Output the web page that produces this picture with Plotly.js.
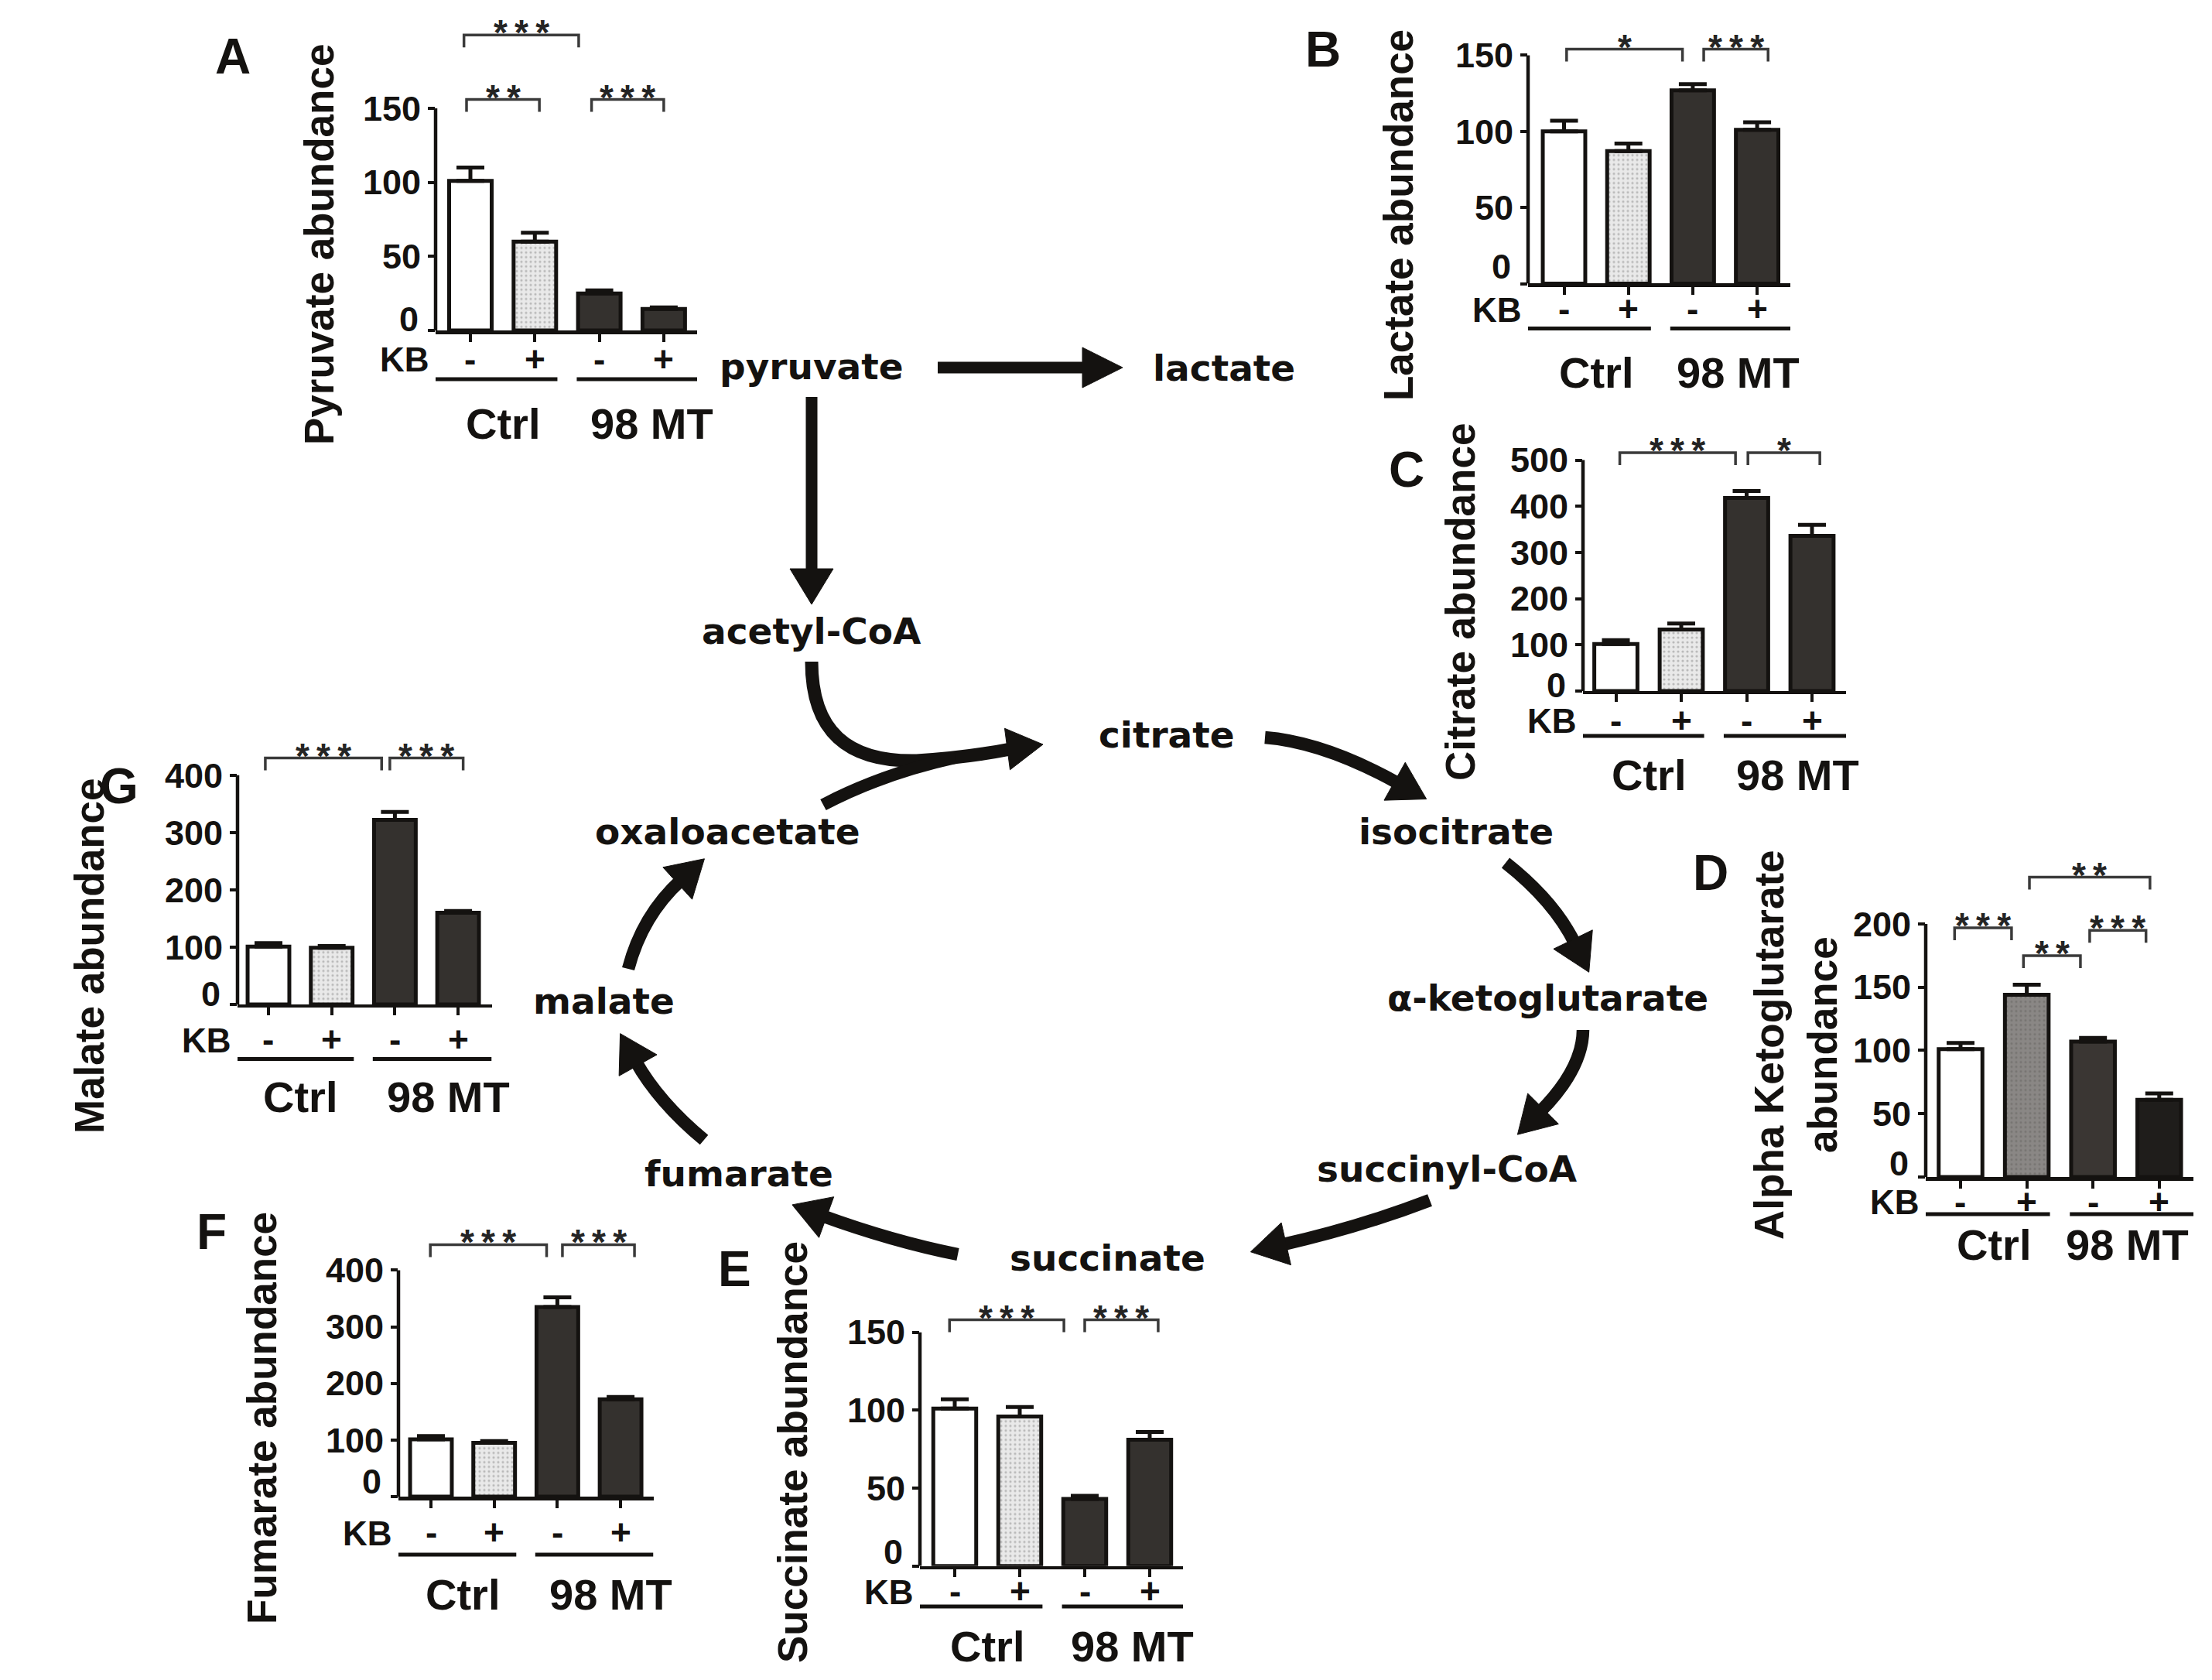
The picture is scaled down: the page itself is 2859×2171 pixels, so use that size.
<!DOCTYPE html>
<html><head><meta charset="utf-8">
<script src="https://cdn.plot.ly/plotly-3.0.1.min.js"></script>
<style>html,body{margin:0;padding:0;background:#fff}</style>
</head><body><div id="chart" style="width:2859px;height:2171px"></div>
<script>
// ---------------- data ----------------
const categories = ['Ctrl, KB -', 'Ctrl, KB +', '98 MT, KB -', '98 MT, KB +'];
const kbLabels = ['-', '+', '-', '+'];
const groupLabels = ['Ctrl', '98 MT'];

const pyruvateMean = [101, 60, 25, 14.5];
const pyruvateErr = [9, 6, 2, 1];
const lactateMean = [100, 87, 127, 101];
const lactateErr = [7, 5, 4, 5];
const citrateMean = [102, 133, 418, 336];
const citrateErr = [8, 13, 15, 24];
const akgMean = [101, 144, 107, 61];
const akgErr = [5, 8, 3, 5];
const succinateMean = [101, 96, 43, 81];
const succinateErr = [6, 6, 2, 5];
const fumarateMean = [101, 95, 335, 172];
const fumarateErr = [6, 3, 17, 4];
const malateMean = [101, 99, 322, 160];
const malateErr = [6, 3, 14, 3];

const ticks150 = [0, 50, 100, 150];
const ticks200 = [0, 50, 100, 150, 200];
const ticks400 = [0, 100, 200, 300, 400];
const ticks500 = [0, 100, 200, 300, 400, 500];

const pathwayNames = ['pyruvate', 'lactate', 'acetyl-CoA', 'citrate', 'isocitrate', 'α-ketoglutarate',
  'succinyl-CoA', 'succinate', 'fumarate', 'malate', 'oxaloacetate'];

// ---------------- layout helpers ----------------
const W = 2859, H = 2171;
const px = x => +(x / W).toFixed(6);
const py = y => +(1 - y / H).toFixed(6);
const INK = '#141210';
const FONT = 'Liberation Sans, Arial, sans-serif';
const DFONT = 'DejaVu Sans, Verdana, sans-serif';

const stdFill = ['#ffffff', '#e9e9e9', '#34312e', '#34312e'];
const akgFill = ['#ffffff', '#8a8785', '#3a3633', '#1f1d1b'];
const stdDot = '#9a9a9a', akgDot = '#6a6866';

const panels = [
  {letter:'A', title:'Pyruvate abundance', mean:pyruvateMean, err:pyruvateErr, ticks:ticks150, ymax:150,
   g:{axisX:563, axisEnd:901, c0:608, sp:83.3, base:427, top:140, titleXY:[413,316], letterXY:[301,73],
      kbY:464, lineY:490, groupY:547, mtX:2.82, zeroRaise:14},
   brackets:[[-0.1,1.68,199.5,'***'],[-0.06,1.07,156,'**'],[1.88,3.0,156,'***']], fill:stdFill, dot:stdDot},
  {letter:'B', title:'Lactate abundance', mean:lactateMean, err:lactateErr, ticks:ticks150, ymax:150,
   g:{axisX:1975, axisEnd:2314, c0:2021.5, sp:83.2, base:366.5, top:71.4, titleXY:[1807,278], letterXY:[1710,64],
      kbY:399, lineY:424.5, groupY:481, mtX:2.71, zeroRaise:22},
   brackets:[[0.04,1.84,154,'*'],[2.17,3.17,154,'***']], fill:stdFill, dot:stdDot},
  {letter:'C', title:'Citrate abundance', mean:citrateMean, err:citrateErr, ticks:ticks500, ymax:500,
   g:{axisX:2046, axisEnd:2386, c0:2088.5, sp:84.5, base:893, top:594.6, titleXY:[1888,778], letterXY:[1818,607],
      kbY:931, lineY:951, groupY:1002, mtX:2.78, zeroRaise:8},
   brackets:[[0.06,1.83,516,'***'],[2.02,3.12,516,'*']], fill:stdFill, dot:stdDot},
  {letter:'D', title:'Alpha Ketoglutarate<br>abundance', mean:akgMean, err:akgErr, ticks:ticks200, ymax:200,
   g:{axisX:2489, axisEnd:2835, c0:2534, sp:85.6, base:1521, top:1194, titleXY:[2321,1350], letterXY:[2211,1128],
      kbY:1553, lineY:1569, groupY:1608, mtX:2.52, zeroRaise:17},
   brackets:[[-0.09,0.77,197,'***'],[0.95,1.81,175,'**'],[1.95,2.80,195,'***'],[1.04,2.86,237,'**']], fill:akgFill, dot:akgDot},
  {letter:'E', title:'Succinate abundance', mean:succinateMean, err:succinateErr, ticks:ticks150, ymax:150,
   g:{axisX:1189, axisEnd:1529, c0:1234, sp:84, base:2023.7, top:1721.7, titleXY:[1024,1876], letterXY:[950,1640],
      kbY:2056, lineY:2076, groupY:2127, mtX:2.73, zeroRaise:18},
   brackets:[[-0.08,1.68,158,'***'],[2.0,3.13,158,'***']], fill:stdFill, dot:stdDot},
  {letter:'F', title:'Fumarate abundance', mean:fumarateMean, err:fumarateErr, ticks:ticks400, ymax:400,
   g:{axisX:515, axisEnd:844.5, c0:557, sp:81.7, base:1934, top:1641.4, titleXY:[339,1833], letterXY:[273,1592],
      kbY:1980, lineY:2009, groupY:2061, mtX:2.84, zeroRaise:20},
   brackets:[[-0.01,1.83,445,'***'],[2.08,3.22,445,'***']], fill:stdFill, dot:stdDot},
  {letter:'G', title:'Malate abundance', mean:malateMean, err:malateErr, ticks:ticks400, ymax:400,
   g:{axisX:307, axisEnd:635.5, c0:347, sp:81.7, base:1298, top:1001.8, titleXY:[115,1236], letterXY:[154,1016],
      kbY:1343, lineY:1368.5, groupY:1417, mtX:2.85, zeroRaise:13},
   brackets:[[-0.05,1.79,430,'***'],[1.92,3.08,430,'***']], fill:stdFill, dot:stdDot}
];

const shapes = [], annotations = [], traces = [];
const layout = {width:W, height:H, autosize:false, margin:{l:0,r:0,t:0,b:0,pad:0}, barmode:'overlay',
  paper_bgcolor:'#ffffff', plot_bgcolor:'rgba(0,0,0,0)', showlegend:false, shapes, annotations};

function txt(text, x, y, size, opts) {
  return Object.assign({text, x, y, xref:'paper', yref:'paper', showarrow:false, xanchor:'center', yanchor:'middle',
    font:{family:FONT, size, color:INK, weight:'bold'}}, opts || {});
}

const plainIdx = [0, 2, 3], dotIdx = [1];

panels.forEach((p, i) => {
  const n = i + 1, suf = n === 1 ? '' : String(n);
  const xr = 'x' + suf, yr = 'y' + suf, g = p.g;
  const ppu = (g.base - g.top) / p.ymax;
  const maxB = Math.max(...p.brackets.map(b => b[2]));
  const yExt = maxB + 10 / ppu;
  const domTopPx = g.base - yExt * ppu;
  const xRange = [(g.axisX - g.c0) / g.sp, (g.axisEnd - g.c0) / g.sp];

  layout['xaxis' + suf] = {domain:[px(g.axisX), px(g.axisEnd)], range:xRange, anchor:yr,
    showline:true, linecolor:INK, linewidth:4.5, ticks:'outside', ticklen:10, tickwidth:4, tickcolor:INK,
    tickvals:[0,1,2,3], showticklabels:false, showgrid:false, zeroline:false, fixedrange:true};
  layout['yaxis' + suf] = {domain:[py(g.base), py(domTopPx)], range:[0, yExt], anchor:xr,
    showline:false, ticks:'outside', ticklen:9, tickwidth:4, tickcolor:INK, tickvals:p.ticks,
    ticktext:p.ticks.map(v => v === 0 ? '' : String(v)),
    tickfont:{family:FONT, size:45, color:INK, weight:'bold'}, showgrid:false, zeroline:false, fixedrange:true};

  const errTrace = {type:'data', symmetric:false, color:INK, thickness:5, width:18};
  // plain bars (white / dark)
  traces.push({type:'bar', x:plainIdx, y:plainIdx.map(k => p.mean[k]), hovertext:plainIdx.map(k => categories[k]),
    xaxis:xr, yaxis:yr, width:0.66,
    marker:{color:plainIdx.map(k => p.fill[k]), line:{color:INK, width:5}},
    error_y:Object.assign({array:plainIdx.map(k => p.err[k]), arrayminus:plainIdx.map(() => 0)}, errTrace),
    hoverinfo:'text'});
  // dotted (KB-treated control) bar
  traces.push({type:'bar', x:dotIdx, y:dotIdx.map(k => p.mean[k]), hovertext:dotIdx.map(k => categories[k]),
    xaxis:xr, yaxis:yr, width:0.66,
    marker:{color:p.fill[1], line:{color:INK, width:5},
      pattern:{shape:'.', bgcolor:p.fill[1], fgcolor:p.dot, fgopacity:0.6, size:6, solidity:0.22}},
    error_y:Object.assign({array:dotIdx.map(k => p.err[k]), arrayminus:dotIdx.map(() => 0)}, errTrace),
    hoverinfo:'text'});

  // "0" tick label, set slightly above the baseline as in the original
  annotations.push({xref:'paper', x:px(g.axisX - 21), xanchor:'right', yref:yr, y:0, yanchor:'middle',
    yshift:g.zeroRaise, text:'0', showarrow:false, borderpad:0,
    font:{family:FONT, size:45, color:INK, weight:'bold'}});

  // y spine 0..ymax
  shapes.push({type:'line', xref:xr + ' domain', yref:yr, x0:0, x1:0, y0:0, y1:p.ymax,
    line:{color:INK, width:4.5}});

  // significance brackets and stars
  const legU = 16 / ppu;
  p.brackets.forEach(b => {
    shapes.push({type:'path', xref:xr, yref:yr,
      path:`M${b[0]},${b[2]-legU} L${b[0]},${b[2]} L${b[1]},${b[2]} L${b[1]},${b[2]-legU}`,
      line:{color:'#3a3a3a', width:3.5}});
    annotations.push({xref:xr, yref:yr, x:(b[0]+b[1])/2, y:b[2], yshift:3, showarrow:false,
      text:b[3].split('').join('\u2009'), xanchor:'center', yanchor:'middle',
      font:{family:FONT, size:46, color:'#242424', weight:'bold'}});
  });

  // KB -/+ labels
  kbLabels.forEach((k, j) => annotations.push({xref:xr, x:j, yref:'paper', y:py(g.kbY), text:k, showarrow:false,
    xanchor:'center', yanchor:'middle', borderpad:0, font:{family:FONT, size:46, color:INK, weight:'bold'}}));
  annotations.push(txt('KB', px(g.axisX - 7), py(g.kbY + 1), 44, {xanchor:'right', borderpad:0}));

  // group underlines and labels
  shapes.push({type:'line', xref:xr, yref:'paper', x0:xRange[0], x1:1.35, y0:py(g.lineY), y1:py(g.lineY),
    line:{color:INK, width:5}});
  shapes.push({type:'line', xref:xr, yref:'paper', x0:1.65, x1:xRange[1], y0:py(g.lineY), y1:py(g.lineY),
    line:{color:INK, width:5}});
  annotations.push({xref:xr, x:0.5, yref:'paper', y:py(g.groupY), text:groupLabels[0], showarrow:false,
    xanchor:'center', yanchor:'middle', font:{family:FONT, size:56, color:INK, weight:'bold'}});
  annotations.push({xref:xr, x:g.mtX, yref:'paper', y:py(g.groupY), text:groupLabels[1], showarrow:false,
    xanchor:'center', yanchor:'middle', font:{family:FONT, size:56, color:INK, weight:'bold'}});

  // title and panel letter
  annotations.push(txt(p.title, px(g.titleXY[0]), py(g.titleXY[1]), 53, {textangle:-90}));
  annotations.push(txt(p.letter, px(g.letterXY[0]), py(g.letterXY[1]), 64));
});

// ---------------- pathway diagram ----------------
const nodeXY = [[1049,490],[1582,492],[1049,832],[1508,966],[1882,1091],[2001,1306],
  [1870,1527],[1431,1642],[955,1533],[780,1310],[941,1091]];
pathwayNames.forEach((name, k) => {
  annotations.push({text:name, xref:'paper', yref:'paper', x:px(nodeXY[k][0]), y:py(nodeXY[k][1] - 16.5),
    showarrow:false, xanchor:'center', yanchor:'middle', font:{family:DFONT, size:47, color:INK, weight:'bold'}});
});

function P(pt) { return `${px(pt[0])},${py(pt[1])}`; }
function head(tip, base, hw) {
  const dx = tip[0]-base[0], dy = tip[1]-base[1], n = Math.hypot(dx, dy), ux = dx/n, uy = dy/n;
  const w1 = [base[0]-uy*hw, base[1]+ux*hw], w2 = [base[0]+uy*hw, base[1]-ux*hw];
  shapes.push({type:'path', xref:'paper', yref:'paper', path:`M${P(tip)} L${P(w1)} L${P(w2)} Z`,
    fillcolor:INK, line:{color:INK, width:1}});
}
function qpt(S, C, T, t) { const u = 1-t; return [u*u*S[0]+2*u*t*C[0]+t*t*T[0], u*u*S[1]+2*u*t*C[1]+t*t*T[1]]; }
function curvedArrow(S, M, T, w, L, hw) {
  const C = [(4*M[0]-S[0]-T[0])/2, (4*M[1]-S[1]-T[1])/2];
  let t0 = 0.8;
  for (let t = 1; t > 0; t -= 0.002) { const q = qpt(S,C,T,t); if (Math.hypot(q[0]-T[0], q[1]-T[1]) >= L) { t0 = t; break; } }
  const B = qpt(S,C,T,t0);
  const C1 = [S[0]+t0*(C[0]-S[0]), S[1]+t0*(C[1]-S[1])];
  const dx = 2*(1-t0)*(C[0]-S[0]) + 2*t0*(T[0]-C[0]), dy = 2*(1-t0)*(C[1]-S[1]) + 2*t0*(T[1]-C[1]);
  const n = Math.hypot(dx, dy), ux = dx/n, uy = dy/n;
  const Bx = [B[0]+ux*6, B[1]+uy*6];
  shapes.push({type:'path', xref:'paper', yref:'paper', path:`M${P(S)} Q${P(C1)} ${P(Bx)}`,
    line:{color:INK, width:w}, fillcolor:'rgba(0,0,0,0)'});
  head([B[0]+ux*L, B[1]+uy*L], B, hw);
}

// straight arrows
shapes.push({type:'line', xref:'paper', yref:'paper', x0:px(1212), x1:px(1403), y0:py(475), y1:py(475), line:{color:INK, width:15}});
head([1451,475], [1399,475], 26);
shapes.push({type:'line', xref:'paper', yref:'paper', x0:px(1049), x1:px(1049), y0:py(513), y1:py(739), line:{color:INK, width:15}});
head([1049,781], [1049,735], 28);

// acetyl-CoA + oxaloacetate -> citrate
shapes.push({type:'path', xref:'paper', yref:'paper',
  path:`M${P([1049,855])} C${P([1049,945])} ${P([1095,985])} ${P([1185,983])} Q${P([1250,979])} ${P([1306,968])}`,
  line:{color:INK, width:17}, fillcolor:'rgba(0,0,0,0)'});
shapes.push({type:'path', xref:'paper', yref:'paper',
  path:`M${P([1064,1040])} Q${P([1140,1000])} ${P([1235,979])}`,
  line:{color:INK, width:16}, fillcolor:'rgba(0,0,0,0)'});
head([1348,962], [1302,968], 27);

// TCA cycle arrows
const cyc = [
  [[1635,953],[1734,977],[1843,1034]],
  [[1946,1115],[2017,1187],[2047,1259]],
  [[2046,1331],[2024,1397],[1959,1464]],
  [[1848,1551],[1734,1589],[1616,1617]],
  [[1238,1621],[1131,1594],[1024,1556]],
  [[910,1473],[841,1402],[807,1333]],
  [[812,1252],[850,1170],[914,1114]]
];
cyc.forEach(a => curvedArrow(a[0], a[1], a[2], 16.5, 47, 28));

Plotly.newPlot('chart', traces, layout, {staticPlot:true, displayModeBar:false});
</script>
</body></html>
